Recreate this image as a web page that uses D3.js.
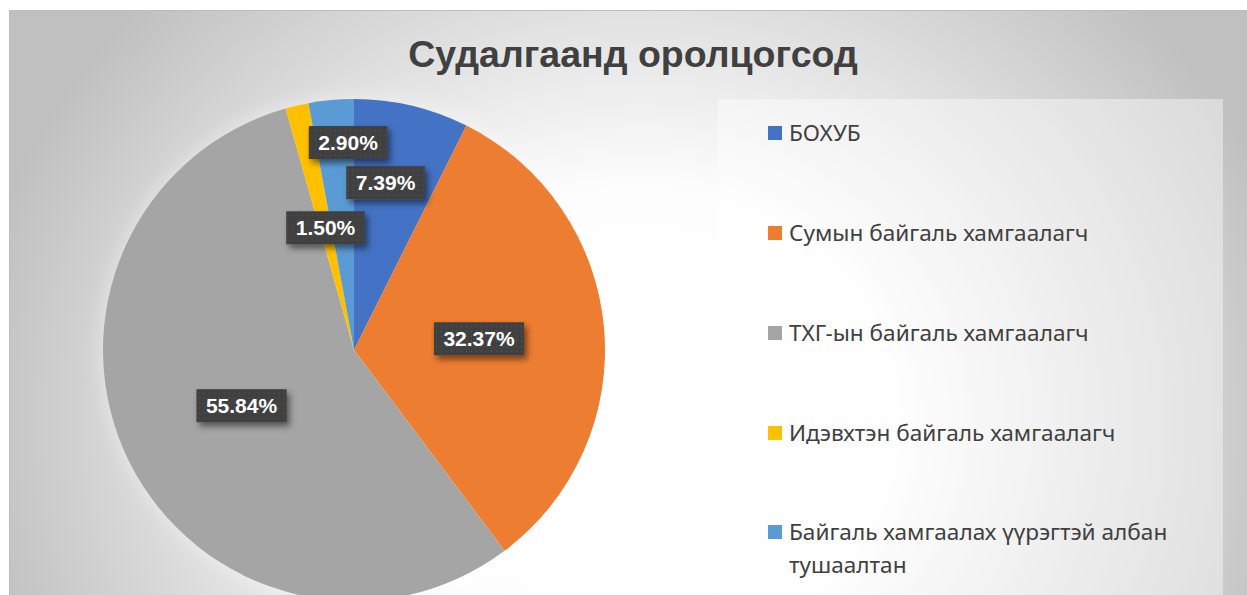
<!DOCTYPE html>
<html>
<head>
<meta charset="utf-8">
<script src="https://cdn.jsdelivr.net/npm/d3@7"></script>
<style>
  body { margin: 0; background: #fff; }
  svg { display: block; }
</style>
</head>
<body>
<div id="chart-area"></div>
<script>

// data
let title = "Судалгаанд оролцогсод";
let categories = ["БОХУБ", "Сумын байгаль хамгаалагч", "ТХГ-ын байгаль хамгаалагч", "Идэвхтэн байгаль хамгаалагч", "Байгаль хамгаалах үүрэгтэй албан тушаалтан"];
let shares = [7.39, 32.37, 55.84, 1.50, 2.90];
let colors = ["#4472C4", "#ED7D31", "#A5A5A5", "#FFC000", "#5B9BD5"];

// label placement (layout only): radius factor and x nudge per slice
let labelRadius = [0.685, 0.5, 0.5, 0.5, 0.83];
let labelNudge = [-8, 0, 0, 0, 13];

let width = 1247, height = 595;
let cx = 354, cy = 350, radius = 251;

let svg = d3.select("#chart-area").append("svg")
	.attr("width", width)
	.attr("height", height);

let defs = svg.append("defs");

// background gradient
let bg = defs.append("radialGradient")
	.attr("id", "bgGrad")
	.attr("gradientUnits", "userSpaceOnUse")
	.attr("cx", 640).attr("cy", 420).attr("r", 680)
	.attr("gradientTransform", "translate(640,420) scale(1,0.9) translate(-640,-420)");
bg.append("stop").attr("offset", 0).attr("stop-color", "#ffffff");
bg.append("stop").attr("offset", 0.38).attr("stop-color", "#fdfdfd");
bg.append("stop").attr("offset", 1).attr("stop-color", "#c0c0c0");

// dotted label pattern
let pat = defs.append("pattern")
	.attr("id", "dots")
	.attr("patternUnits", "userSpaceOnUse")
	.attr("width", 5).attr("height", 5);
pat.append("rect").attr("width", 5).attr("height", 5).attr("fill", "#404040");
pat.append("rect").attr("x", 2).attr("y", 2).attr("width", 1).attr("height", 1).attr("fill", "#5a5a5a");

// label shadow
let sh = defs.append("filter").attr("id", "shadow")
	.attr("x", "-30%").attr("y", "-50%").attr("width", "160%").attr("height", "200%");
sh.append("feDropShadow")
	.attr("dx", 3).attr("dy", 4).attr("stdDeviation", 3)
	.attr("flood-color", "#000").attr("flood-opacity", 0.5);

// pie soft glow
let glow = defs.append("filter").attr("id", "glow")
	.attr("x", "-20%").attr("y", "-20%").attr("width", "140%").attr("height", "140%");
glow.append("feGaussianBlur").attr("stdDeviation", 9);

// chart background
svg.append("rect")
	.attr("x", 9.5).attr("y", 10.5)
	.attr("width", width + 20).attr("height", height)
	.attr("fill", "url(#bgGrad)")
	.attr("stroke", "#bdbdbd")
	.attr("stroke-width", 1);

// title
svg.append("text")
	.attr("x", 633).attr("y", 67)
	.attr("text-anchor", "middle")
	.style("font-family", "'Liberation Sans', Arial, sans-serif")
	.style("font-weight", "bold")
	.style("font-size", "37.5px")
	.attr("fill", "#404040")
	.text(title);

// legend box
svg.append("rect")
	.attr("x", 718).attr("y", 99)
	.attr("width", 505).attr("height", 520)
	.attr("fill", "#ffffff")
	.attr("fill-opacity", 0.42);

// pie
let pie = d3.pie().sort(null).value(d => d);
let arcs = pie(shares);
let arc = d3.arc().innerRadius(0).outerRadius(radius);

let pieG = svg.append("g").attr("transform", "translate(" + cx + "," + cy + ")");

pieG.append("circle")
	.attr("r", radius + 4)
	.attr("fill", "#ffffff")
	.attr("opacity", 0.35)
	.attr("filter", "url(#glow)");

pieG.selectAll("path.slice")
	.data(arcs)
	.enter()
	.append("path")
	.attr("class", "slice")
	.attr("d", arc)
	.attr("fill", (d, i) => colors[i]);

// data labels
let labels = pieG.selectAll("g.lbl")
	.data(arcs)
	.enter()
	.append("g")
	.attr("class", "lbl")
	.attr("transform", (d, i) => {
		let a = (d.startAngle + d.endAngle) / 2;
		let r = radius * labelRadius[i];
		return "translate(" + (r * Math.sin(a) + labelNudge[i]) + "," + (-r * Math.cos(a)) + ")";
	});

labels.append("rect").attr("class", "box");
labels.append("text")
	.attr("text-anchor", "middle")
	.attr("dy", "0.36em")
	.style("font-family", "'Liberation Sans', Arial, sans-serif")
	.style("font-weight", "bold")
	.style("font-size", "21px")
	.attr("fill", "#ffffff")
	.text(d => d.data.toFixed(2) + "%");

labels.each(function() {
	let g = d3.select(this);
	let w = g.select("text").node().getComputedTextLength() + 19;
	g.select("rect.box")
		.attr("x", -w / 2).attr("y", -16.5)
		.attr("width", w).attr("height", 33)
		.attr("fill", "url(#dots)")
		.attr("filter", "url(#shadow)");
});

// legend
let legend = svg.append("g").attr("transform", "translate(768,0)");
let legendY = [133, 233, 333, 433, 532];

let items = legend.selectAll("g.item")
	.data(categories)
	.enter()
	.append("g")
	.attr("class", "item")
	.attr("transform", (d, i) => "translate(0," + legendY[i] + ")");

items.append("rect")
	.attr("x", 0).attr("y", -7)
	.attr("width", 14).attr("height", 14)
	.attr("fill", (d, i) => colors[i]);

items.append("text")
	.attr("x", 21)
	.attr("y", 0)
	.attr("dy", "0.35em")
	.style("font-family", "'Noto Sans', 'Open Sans', sans-serif")
	.style("font-size", "22.6px")
	.attr("fill", "#404040")
	.each(function(d) {
		// wrap long names onto a second line
		let t = d3.select(this);
		let words = d.split(" ");
		let line = [];
		let tspan = t.append("tspan").attr("x", 21);
		words.forEach(w => {
			line.push(w);
			tspan.text(line.join(" "));
			if (tspan.node().getComputedTextLength() > 420 && line.length > 1) {
				line.pop();
				tspan.text(line.join(" "));
				line = [w];
				tspan = t.append("tspan").attr("x", 21).attr("dy", 33).text(w);
			}
		});
	});

</script>
</body>
</html>
